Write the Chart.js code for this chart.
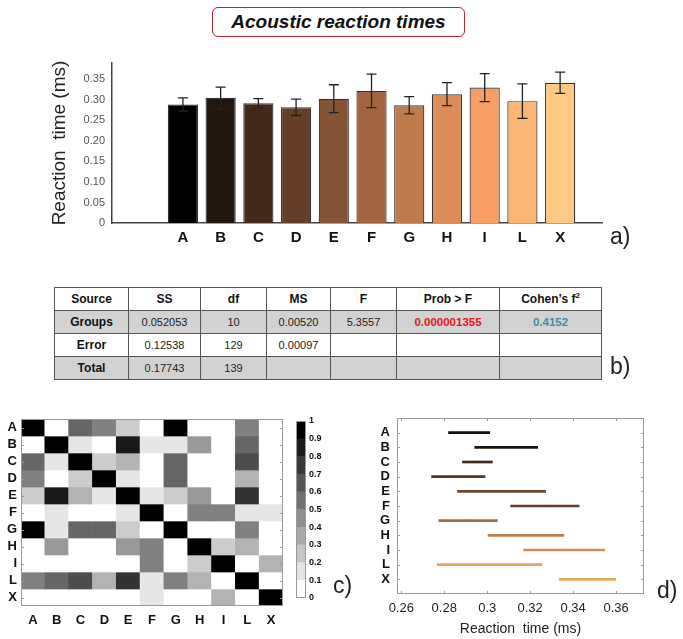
<!DOCTYPE html>
<html>
<head>
<meta charset="utf-8">
<script src="https://cdn.jsdelivr.net/npm/chart.js@4.4.1/dist/chart.umd.min.js"></script>
<style>
  body { margin: 0; background: #fff; font-family: "Liberation Sans", Arial, sans-serif; }
  #page { position: relative; width: 683px; height: 639px; overflow: hidden; }
  .abs { position: absolute; }
  #title {
    left: 212px; top: 7px; width: 253px; height: 30px; box-sizing: border-box;
    border: 1.5px solid #b8292f; border-radius: 6px;
    font: italic bold 19px "Liberation Sans", Arial, sans-serif; color: #111;
    text-align: center; line-height: 27px;
  }
  .tag { font-size: 23px; color: #222; }
  #anova { left: 54px; top: 287px; border-collapse: collapse; table-layout: fixed; }
  #anova td { border: 1px solid #555; text-align: center; height: 22px; padding: 0; font-size: 11px; color: #222; }
  #anova tr.head td { font-size: 12px; font-weight: bold; color: #111; }
  #anova td.lab { font-size: 12px; font-weight: bold; color: #111; }
  #anova tr.shade td { background: #d2d2d2; }
  #anova td.pval { color: #e8141c; font-weight: bold; font-size: 11.5px; }
  #anova td.eff { color: #3f8aa6; font-weight: bold; font-size: 11.5px; }
  #anova sup { font-size: 8px; line-height: 0; }
</style>
</head>
<body>
<div id="page">
  <div id="title" class="abs">Acoustic reaction times</div>
  <canvas id="barChart" class="abs" style="left:0;top:45px" width="640" height="210"></canvas>
  <div class="abs tag" style="left:610px;top:223px">a)</div>

  <table id="anova" class="abs"></table>
  <div class="abs tag" style="left:610px;top:353px">b)</div>

  <canvas id="heatChart" class="abs" style="left:0;top:410px" width="290" height="225"></canvas>
  <canvas id="cbarChart" class="abs" style="left:290px;top:410px" width="45" height="200"></canvas>
  <div class="abs tag" style="left:333px;top:572px">c)</div>

  <canvas id="ciChart" class="abs" style="left:370px;top:410px" width="313" height="229"></canvas>
  <div class="abs tag" style="left:657px;top:577px">d)</div>
</div>

<script>
// groups / categories
const groups = ['A', 'B', 'C', 'D', 'E', 'F', 'G', 'H', 'I', 'L', 'X'];

// a) mean reaction times and error bars
const meanTimes = [0.289, 0.305, 0.292, 0.282, 0.303, 0.322, 0.287, 0.314, 0.330, 0.297, 0.342];
const errTimes = [0.016, 0.026, 0.011, 0.020, 0.034, 0.041, 0.021, 0.028, 0.034, 0.042, 0.026];
const barColors = ['#000000', '#22160f', '#44291b', '#643e28', '#845535', '#a26541', '#c07b4d', '#dc8c58',
                   '#f89e65', '#fbb574', '#fec983'];
const yTicksA = [0, 0.05, 0.10, 0.15, 0.20, 0.25, 0.30, 0.35];

// b) anova table
const tableHead = ['Source', 'SS', 'df', 'MS', 'F', 'Prob > F', 'Cohen\u2019s f<sup>2</sup>'];
const rowGroups = ['Groups', '0.052053', '10', '0.00520', '5.3557', '0.000001355', '0.4152'];
const rowError = ['Error', '0.12538', '129', '0.00097', '', '', ''];
const rowTotal = ['Total', '0.17743', '139', '', '', '', ''];
const colWidths = [74, 72, 66, 64, 66, 103, 102];

// c) pairwise similarity matrix (rows / cols = groups)
const simMatrix = [
  [1.0, 0.0, 0.6, 0.5, 0.2, 0.0, 1.0, 0.0, 0.0, 0.5, 0.0],
  [0.0, 1.0, 0.1, 0.0, 0.9, 0.1, 0.1, 0.4, 0.0, 0.6, 0.0],
  [0.6, 0.1, 1.0, 0.2, 0.3, 0.0, 0.6, 0.0, 0.0, 0.7, 0.0],
  [0.5, 0.0, 0.2, 1.0, 0.1, 0.0, 0.6, 0.0, 0.0, 0.3, 0.0],
  [0.2, 0.9, 0.3, 0.1, 1.0, 0.1, 0.2, 0.4, 0.0, 0.8, 0.0],
  [0.0, 0.1, 0.0, 0.0, 0.1, 1.0, 0.0, 0.5, 0.5, 0.1, 0.1],
  [1.0, 0.1, 0.6, 0.6, 0.2, 0.0, 1.0, 0.0, 0.0, 0.5, 0.0],
  [0.0, 0.4, 0.0, 0.0, 0.4, 0.5, 0.0, 1.0, 0.2, 0.3, 0.0],
  [0.0, 0.0, 0.0, 0.0, 0.0, 0.5, 0.0, 0.2, 1.0, 0.0, 0.3],
  [0.5, 0.6, 0.7, 0.3, 0.8, 0.1, 0.5, 0.3, 0.0, 1.0, 0.0],
  [0.0, 0.0, 0.0, 0.0, 0.0, 0.1, 0.0, 0.0, 0.3, 0.0, 1.0]
];
const cbarTicks = [0, 0.1, 0.2, 0.3, 0.4, 0.5, 0.6, 0.7, 0.8, 0.9, 1];

// d) comparison intervals
const ciLow = [0.2820, 0.2942, 0.2885, 0.2741, 0.2862, 0.3109, 0.2775, 0.3004, 0.3170, 0.2767, 0.3335];
const ciHigh = [0.3012, 0.3235, 0.3024, 0.2990, 0.3272, 0.3428, 0.3047, 0.3357, 0.3547, 0.3255, 0.3598];
const ciMid = [0.2916, 0.3088, 0.2953, 0.2865, 0.3067, 0.3269, 0.2908, 0.3180, 0.3358, 0.3010, 0.3467];
const lineColors = ['#111111', '#1c1410', '#3c2a20', '#5a3524', '#6b4533', '#603e2d', '#a86a45', '#c47c4d',
                    '#d28a55', '#e4a563', '#e9a957'];
const xTicksD = [0.26, 0.28, 0.30, 0.32, 0.34, 0.36];

const FONT = '"Liberation Sans", Arial, sans-serif';
Chart.defaults.font.family = FONT;

function grey(v) {
  const c = Math.round(255 * (1 - v));
  return `rgb(${c},${c},${c})`;
}

// fixed axis size, and no extra label padding pushing the plot area in
function fixWidth(w) {
  return s => { s.width = w; s.paddingTop = 0; s.paddingBottom = 0; };
}
function fixHeight(h) {
  return s => { s.height = h; s.paddingLeft = 0; s.paddingRight = 0; };
}

// draws a box round the plot area, with optional short inward ticks
const framePlugin = {
  id: 'frame',
  afterDraw(chart, args, opts) {
    const a = chart.chartArea;
    const ctx = chart.ctx;
    ctx.save();
    ctx.strokeStyle = opts.color || '#888';
    ctx.lineWidth = 1;
    ctx.strokeRect(a.left + 0.5, a.top + 0.5, a.width - 1, a.height - 1);
    const len = opts.tickLength || 0;
    if (len) {
      ctx.beginPath();
      (opts.yTicks ? chart.scales.y.ticks : []).forEach(t => {
        const py = Math.round(chart.scales.y.getPixelForValue(t.value)) + 0.5;
        ctx.moveTo(a.left, py); ctx.lineTo(a.left + len, py);
        ctx.moveTo(a.right, py); ctx.lineTo(a.right - len, py);
      });
      (opts.xTicks ? chart.scales.x.ticks : []).forEach(t => {
        const px = Math.round(chart.scales.x.getPixelForValue(t.value)) + 0.5;
        ctx.moveTo(px, a.bottom); ctx.lineTo(px, a.bottom - len);
        ctx.moveTo(px, a.top); ctx.lineTo(px, a.top + len);
      });
      ctx.stroke();
    }
    ctx.restore();
  }
};

// error bars for panel a
const errorBarPlugin = {
  id: 'errorBars',
  afterDatasetsDraw(chart) {
    const { ctx, scales: { x, y } } = chart;
    ctx.save();
    ctx.strokeStyle = '#222';
    ctx.lineWidth = 1.3;
    meanTimes.forEach((m, i) => {
      const px = x.getPixelForValue(i + 1);
      const top = y.getPixelForValue(m + errTimes[i]);
      const bot = y.getPixelForValue(m - errTimes[i]);
      ctx.beginPath();
      ctx.moveTo(px, top); ctx.lineTo(px, bot);
      ctx.moveTo(px - 5, top); ctx.lineTo(px + 5, top);
      ctx.moveTo(px - 5, bot); ctx.lineTo(px + 5, bot);
      ctx.stroke();
    });
    ctx.restore();
  }
};

// ---- a) bar chart
new Chart(document.getElementById('barChart'), {
  type: 'bar',
  data: {
    datasets: [{
      data: meanTimes.map((v, i) => ({ x: i + 1, y: v })),
      backgroundColor: barColors,
      borderColor: '#333',
      borderWidth: 1.2,
      barPercentage: 0.8,
      categoryPercentage: 1
    }]
  },
  options: {
    responsive: false,
    animation: false,
    layout: { padding: { left: 48, top: 18, right: 38, bottom: 0 } },
    plugins: { legend: { display: false }, tooltip: { enabled: false } },
    scales: {
      x: {
        type: 'linear', min: -0.88, max: 12.11, offset: false,
        grid: { display: false, drawTicks: false, offset: false },
        border: { color: '#444', width: 1.5 },
        afterBuildTicks: s => { s.ticks = groups.map((g, i) => ({ value: i + 1 })); },
        ticks: {
          autoSkip: false, maxRotation: 0, padding: 6, color: '#111',
          font: { size: 15, weight: 'bold' },
          callback: v => groups[v - 1]
        },
        afterFit: fixHeight(32)
      },
      y: {
        min: 0, max: 0.39,
        grid: { display: false, drawTicks: false },
        border: { color: '#444', width: 1.5 },
        afterBuildTicks: s => { s.ticks = yTicksA.map(v => ({ value: v })); },
        ticks: {
          autoSkip: false, color: '#555', font: { size: 11 }, padding: 7,
          callback: v => v === 0 ? '0' : v.toFixed(2)
        },
        title: { display: true, text: 'Reaction  time (ms)', color: '#222', font: { size: 19 }, padding: 0 },
        afterFit: fixWidth(64)
      }
    }
  },
  plugins: [errorBarPlugin]
});

// ---- b) table
const table = document.getElementById('anova');
const cg = document.createElement('colgroup');
colWidths.forEach(w => {
  const c = document.createElement('col');
  c.style.width = w + 'px';
  cg.appendChild(c);
});
table.appendChild(cg);
[[tableHead, 'head'], [rowGroups, 'shade'], [rowError, ''], [rowTotal, 'shade']].forEach(([cells, cls], r) => {
  const tr = document.createElement('tr');
  if (cls) tr.className = cls;
  cells.forEach((txt, c) => {
    const td = document.createElement('td');
    td.innerHTML = txt;
    if (c === 0) td.classList.add('lab');
    if (r === 1 && c === 5) td.classList.add('pval');
    if (r === 1 && c === 6) td.classList.add('eff');
    tr.appendChild(td);
  });
  table.appendChild(tr);
});

// ---- c) heatmap, one stacked dataset per row
new Chart(document.getElementById('heatChart'), {
  type: 'bar',
  data: {
    labels: groups,
    datasets: simMatrix.map(row => ({
      data: row.map(() => 1),
      backgroundColor: row.map(v => grey(v)),
      borderWidth: 0,
      barPercentage: 1,
      categoryPercentage: 1
    }))
  },
  options: {
    responsive: false,
    animation: false,
    layout: { padding: { left: 0, top: 9, right: 7, bottom: 0 } },
    plugins: {
      legend: { display: false }, tooltip: { enabled: false },
      frame: { color: '#999', tickLength: 3, yTicks: true }
    },
    scales: {
      x: {
        stacked: true,
        grid: { display: false, drawTicks: false },
        border: { display: false },
        ticks: { autoSkip: false, color: '#111', font: { size: 13, weight: 'bold' }, padding: 7, maxRotation: 0 },
        afterFit: fixHeight(29)
      },
      y: {
        stacked: true, reverse: true, min: 0, max: 11,
        grid: { display: false, drawTicks: false },
        border: { display: false },
        afterBuildTicks: s => { s.ticks = groups.map((g, i) => ({ value: i + 0.5 })); },
        ticks: { autoSkip: false, color: '#111', font: { size: 13, weight: 'bold' }, padding: 4, callback: v => groups[Math.floor(v)] },
        afterFit: fixWidth(21)
      }
    }
  },
  plugins: [framePlugin]
});

// ---- c) colour bar
new Chart(document.getElementById('cbarChart'), {
  type: 'bar',
  data: {
    labels: [''],
    datasets: cbarTicks.slice(0, 10).map((v, k) => ({
      data: [0.1],
      backgroundColor: grey(k / 9),
      borderWidth: 0,
      barPercentage: 1,
      categoryPercentage: 1
    }))
  },
  options: {
    responsive: false,
    animation: false,
    layout: { padding: { left: 6, top: 11, right: 0, bottom: 12 } },
    plugins: { legend: { display: false }, tooltip: { enabled: false }, frame: { color: '#999' } },
    scales: {
      x: { stacked: true, display: false },
      y: {
        stacked: true, position: 'right', min: 0, max: 1,
        grid: { display: false, drawTicks: false },
        border: { display: false },
        afterBuildTicks: s => { s.ticks = cbarTicks.map(v => ({ value: v })); },
        ticks: { autoSkip: false, color: '#111', font: { size: 9, weight: 'bold' }, padding: 3, callback: v => String(+v.toFixed(1)) },
        afterFit: fixWidth(29)
      }
    }
  },
  plugins: [framePlugin]
});

// ---- d) comparison intervals
new Chart(document.getElementById('ciChart'), {
  type: 'bar',
  data: {
    datasets: [{
      data: groups.map((g, i) => ({ y: i + 1, x: [ciLow[i], ciHigh[i]] })),
      backgroundColor: lineColors,
      borderWidth: 0,
      barThickness: 2
    }, {
      type: 'scatter',
      data: ciMid.map((v, i) => ({ x: v, y: i + 1 })),
      pointStyle: 'line',
      rotation: 90,
      radius: 1.5,
      borderWidth: 1,
      borderColor: 'rgba(170,170,170,0.45)'
    }]
  },
  options: {
    indexAxis: 'y',
    responsive: false,
    animation: false,
    layout: { padding: { left: 0, top: 8, right: 39, bottom: 0 } },
    plugins: {
      legend: { display: false }, tooltip: { enabled: false },
      frame: { color: '#999', tickLength: 3, xTicks: true, yTicks: true }
    },
    scales: {
      x: {
        type: 'linear', min: 0.258, max: 0.373,
        grid: { display: false, drawTicks: false },
        border: { display: false },
        afterBuildTicks: s => { s.ticks = xTicksD.map(v => ({ value: v })); },
        ticks: { autoSkip: false, color: '#222', font: { size: 13 }, padding: 7, callback: v => String(+v.toFixed(2)) },
        title: { display: true, text: 'Reaction  time (ms)', color: '#222', font: { size: 14 }, padding: { top: 2, bottom: 1 } },
        afterFit: fixHeight(45)
      },
      y: {
        type: 'linear', reverse: true, min: 0, max: 12, offset: false,
        grid: { display: false, drawTicks: false, offset: false },
        border: { display: false },
        afterBuildTicks: s => { s.ticks = groups.map((g, i) => ({ value: i + 1 })); },
        ticks: { autoSkip: false, color: '#111', font: { size: 13, weight: 'bold' }, padding: 7, callback: v => groups[v - 1] },
        afterFit: fixWidth(27)
      }
    }
  },
  plugins: [framePlugin]
});
</script>
</body>
</html>
